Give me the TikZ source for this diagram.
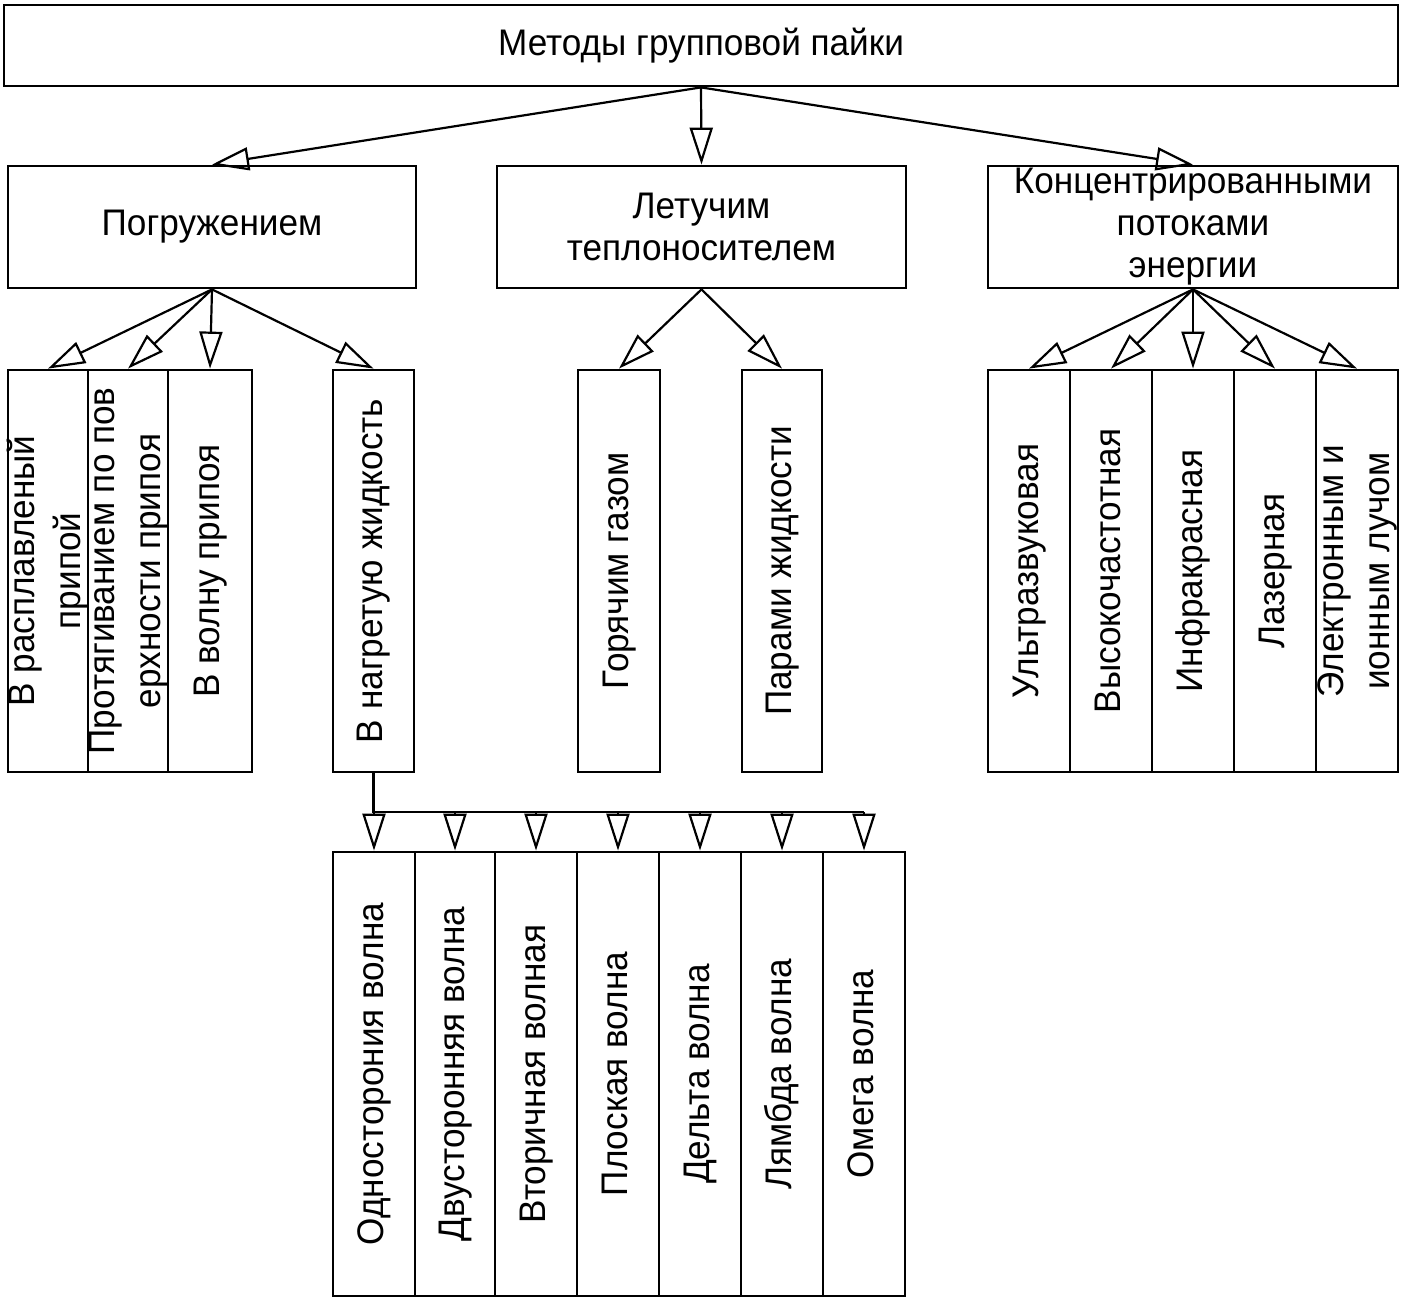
\documentclass[tikz,border=0pt]{standalone}
\usepackage{fontspec}
\setmainfont{Liberation Sans}[FakeStretch=0.95]
\usetikzlibrary{arrows.meta}
\newcommand{\vtxt}[1]{\makebox[0pt]{\rotatebox{90}{\fontsize{37}{46}\selectfont\begin{tabular}{@{}c@{}}#1\end{tabular}}}}
\begin{document}
\begin{tikzpicture}[x=1pt,y=-1pt,
  box/.style={draw, line width=2.8pt, inner sep=0pt, align=center,
    font=\fontsize{37}{42}\selectfont},
  vbox/.style={box, minimum height=402pt},
  wbox/.style={box, minimum height=444pt},
  arr/.style={line width=2.2pt,
    -{Triangle[open,length=37pt,width=23pt,line width=2.2pt]}},
  link/.style={line width=2.4pt}
]
\fill[white] (0,0) rectangle (1403,1304);
\useasboundingbox (0,0) rectangle (1403,1304);

% level 1
\node[box, minimum width=1394pt, minimum height=81pt] (top) at (701,45.5) {Методы групповой пайки};

% level 2
\node[box, minimum width=408pt, minimum height=122pt] (pog) at (212,227) {Погружением};
\node[box, minimum width=409pt, minimum height=122pt] (let) at (701.5,227) {Летучим\\теплоносителем};
\node[box, minimum width=410pt, minimum height=122pt] (konc) at (1193,227) {Концентрированными\\потоками\\энергии};

\draw[arr] (top.south) -- (pog.north);
\draw[arr] (top.south) -- (let.north);
\draw[arr] (top.south) -- (konc.north);

% level 3: immersion
\node[vbox, minimum width=80pt] (p1) at (48,571) {\vtxt{В расплавленый\\припой}};
\node[vbox, minimum width=80pt] (p2) at (128,571) {\vtxt{Протягиванием по пов\\ерхности припоя}};
\node[vbox, minimum width=84pt] (p3) at (210,571) {\vtxt{В волну припоя}};
\node[vbox, minimum width=81pt] (p4) at (373.5,571) {\vtxt{В нагретую жидкость}};
\foreach \n in {p1,p2,p3,p4} \draw[arr] (pog.south) -- (\n.north);

% level 3: vapour
\node[vbox, minimum width=82pt] (l1) at (619,571) {\vtxt{Горячим газом}};
\node[vbox, minimum width=80pt] (l2) at (782,571) {\vtxt{Парами жидкости}};
\foreach \n in {l1,l2} \draw[arr] (let.south) -- (\n.north);

% level 3: concentrated energy
\node[vbox, minimum width=82pt] (k1) at (1029,571) {\vtxt{Ультразвуковая}};
\node[vbox, minimum width=82pt] (k2) at (1111,571) {\vtxt{Высокочастотная}};
\node[vbox, minimum width=82pt] (k3) at (1193,571) {\vtxt{Инфракрасная}};
\node[vbox, minimum width=82pt] (k4) at (1275,571) {\vtxt{Лазерная}};
\node[vbox, minimum width=82pt] (k5) at (1357,571) {\vtxt{Электронным и\\ионным лучом}};
\foreach \n in {k1,k2,k3,k4,k5} \draw[arr] (konc.south) -- (\n.north);

% level 4: waves
\node[wbox, minimum width=82pt] (w1) at (374,1074) {\vtxt{Односторония волна}};
\node[wbox, minimum width=80pt] (w2) at (455,1074) {\vtxt{Двусторонняя волна}};
\node[wbox, minimum width=82pt] (w3) at (536,1074) {\vtxt{Вторичная волная}};
\node[wbox, minimum width=82pt] (w4) at (618,1074) {\vtxt{Плоская волна}};
\node[wbox, minimum width=82pt] (w5) at (700,1074) {\vtxt{Дельта волна}};
\node[wbox, minimum width=82pt] (w6) at (782,1074) {\vtxt{Лямбда волна}};
\node[wbox, minimum width=82pt] (w7) at (864,1074) {\vtxt{Омега волна}};

\coordinate (bus) at (373.5,812);
\coordinate (busend) at (864,812);
\draw[link] (p4.south) -- (bus) -- (busend);
\foreach \n in {w1,w2,w3,w4,w5,w6,w7} \draw[arr] (\n.north |- bus) -- (\n.north);
\end{tikzpicture}
\end{document}
